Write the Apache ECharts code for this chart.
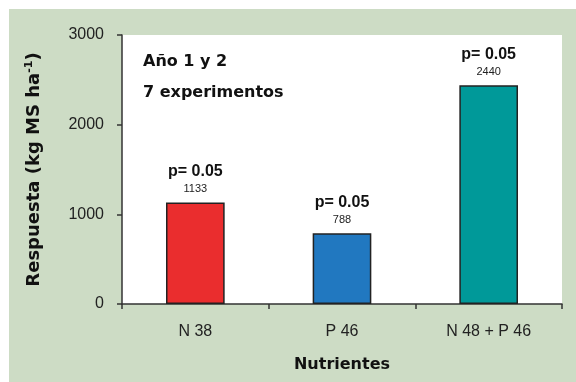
<!DOCTYPE html>
<html>
<head>
<meta charset="utf-8">
<script src="https://cdn.jsdelivr.net/npm/echarts@6/dist/echarts.min.js"></script>
<style>
html,body{margin:0;padding:0;background:#fff;}
#c{position:absolute;left:0;top:0;width:576px;height:382px;}
</style>
</head>
<body>
<div id="c"></div>
<script>
var categories = ['N 38', 'P 46', 'N 48 + P 46'];
var values = [1133, 788, 2440];
var pLabels = ['p= 0.05', 'p= 0.05', 'p= 0.05'];
var barColors = ['#ea2d2e', '#2178c0', '#009999'];
var yTicks = [0, 1000, 2000, 3000];

var FONT = '"Liberation Sans", Arial, sans-serif';
var WIDE = '"DejaVu Sans", sans-serif';
var chart = echarts.init(document.getElementById('c'));
chart.setOption({
  backgroundColor: '#fff',
  animation: false,
  graphic: [
    { type: 'rect', z: -10, shape: { x: 9, y: 9, width: 567, height: 373 }, style: { fill: '#cddcc5' } },
    { type: 'text', left: 143, top: 54, z: 10, style: { text: 'Año 1 y 2', font: 'bold 16px ' + WIDE, fill: '#111' } },
    { type: 'text', left: 143, top: 85, z: 10, style: { text: '7 experimentos', font: 'bold 16px ' + WIDE, fill: '#111' } }
  ],
  grid: { left: 122, right: 14, top: 35, bottom: 78, show: true, backgroundColor: '#fff', borderWidth: 0 },
  xAxis: {
    type: 'category',
    data: categories,
    name: 'Nutrientes',
    nameLocation: 'middle',
    nameGap: 53,
    nameTextStyle: { fontFamily: WIDE, fontWeight: 'bold', fontSize: 16, color: '#111' },
    axisLine: { lineStyle: { color: '#333', width: 1.5 } },
    axisTick: { show: true, alignWithLabel: false, length: 5, lineStyle: { color: '#333', width: 1.5 } },
    axisLabel: { fontFamily: FONT, fontSize: 16, color: '#222', margin: 20 }
  },
  yAxis: {
    type: 'value',
    min: 0, max: 3000, interval: 1000,
    name: '{a|Respuesta (kg MS ha}{s|-1}{a|)}',
    nameLocation: 'middle',
    nameGap: 78,
    nameRotate: 90,
    nameTextStyle: {
      rich: {
        a: { fontFamily: WIDE, fontWeight: 'bold', fontSize: 18, color: '#111' },
        s: { fontFamily: WIDE, fontWeight: 'bold', fontSize: 11, color: '#111', verticalAlign: 'top', padding: [0, 0, 9, 0] }
      }
    },
    axisLine: { show: true, lineStyle: { color: '#333', width: 1.5 } },
    axisTick: { show: true, length: 5, lineStyle: { color: '#333', width: 1.5 } },
    splitLine: { show: false },
    axisLabel: { fontFamily: FONT, fontSize: 16, color: '#222', margin: 18,
      formatter: function (v) { return yTicks.indexOf(v) >= 0 ? String(v) : ''; } }
  },
  series: [{
    type: 'bar',
    barWidth: '40%',
    data: values.map(function (v, i) {
      return { value: v, itemStyle: { color: barColors[i] } };
    }),
    itemStyle: { borderColor: '#222', borderWidth: 1.5 },
    label: {
      show: true,
      position: 'top',
      distance: 6,
      formatter: function (p) { return '{p|' + pLabels[p.dataIndex] + '}\n{v|' + p.value + '}'; },
      rich: {
        p: { fontFamily: FONT, fontWeight: 'bold', fontSize: 16, color: '#111', lineHeight: 22 },
        v: { fontFamily: FONT, fontSize: 11, color: '#222', lineHeight: 14 }
      }
    }
  }]
});
</script>
</body>
</html>
